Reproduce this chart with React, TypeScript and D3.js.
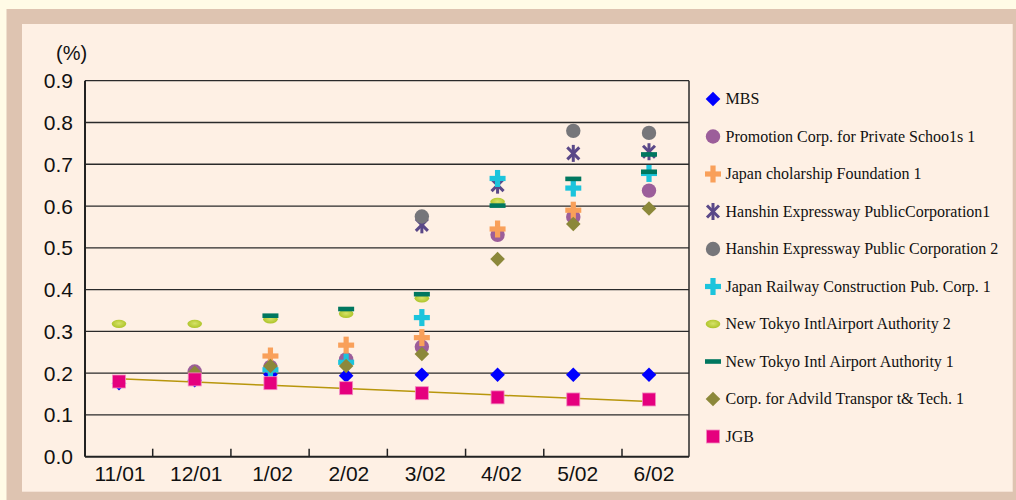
import React from "react";
import * as d3 from "d3";

const categories = ["11/01", "12/01", "1/02", "2/02", "3/02", "4/02", "5/02", "6/02"];
const yTicks = [0, 0.1, 0.2, 0.3, 0.4, 0.5, 0.6, 0.7, 0.8, 0.9];

type V = number | null;
const mbs: V[] = [0.176, 0.183, 0.197, 0.194, 0.196, 0.196, 0.196, 0.196];
const promotion: V[] = [null, 0.204, 0.215, 0.233, 0.263, 0.531, 0.574, 0.637];
const scholarship: V[] = [null, null, 0.241, 0.267, 0.285, 0.545, 0.59, null];
const hanshin1: V[] = [null, null, null, null, 0.555, 0.65, 0.726, 0.73];
const hanshin2: V[] = [null, null, null, null, 0.575, null, 0.78, 0.775];
const railway: V[] = [null, null, 0.208, 0.226, 0.333, 0.666, 0.643, 0.678];
const ntAirport2: V[] = [0.318, 0.318, 0.329, 0.342, 0.379, 0.61, null, null];
const ntAirport1: V[] = [null, null, 0.3375, 0.3535, 0.389, 0.601, 0.665, 0.7235];
const ntAirport1b: V[] = [null, null, null, null, null, null, null, 0.682];
const advTransport: V[] = [null, 0.201, 0.217, 0.217, 0.246, 0.473, 0.557, 0.594];
const jgb: V[] = [0.18, 0.185, 0.176, 0.164, 0.152, 0.142, 0.137, 0.137];

type Shape = "diamond" | "circle" | "plus" | "asterisk" | "ellipse" | "dash" | "square";

const seriesNames = [
  "MBS",
  "Promotion Corp. for Private Schoo1s 1",
  "Japan cholarship Foundation 1",
  "Hanshin Expressway PublicCorporation1",
  "Hanshin Expressway Public Corporation 2",
  "Japan Railway Construction Pub. Corp. 1",
  "New Tokyo IntlAirport Authority 2",
  "New Tokyo Intl Airport Authority 1",
  "Corp. for Advild Transpor t& Tech. 1",
  "JGB",
];
const seriesValues: V[][][] = [
  [mbs],
  [promotion],
  [scholarship],
  [hanshin1],
  [hanshin2],
  [railway],
  [ntAirport2],
  [ntAirport1, ntAirport1b],
  [advTransport],
  [jgb],
];
const seriesShapes: Shape[] = ["diamond", "circle", "plus", "asterisk", "circle", "plus", "ellipse", "dash", "diamond", "square"];
const seriesColors = ["#0000ff", "#9c5e9a", "#f9a05a", "#5a4888", "#76767a", "#1cc4dc", "#b4c830", "#00775f", "#8c883a", "#e5007e"];

function Marker({ shape, color, x, y }: { shape: Shape; color: string; x: number; y: number }) {
  switch (shape) {
    case "diamond":
      return <path d={`M${x},${y - 7.3}L${x + 7.3},${y}L${x},${y + 7.3}L${x - 7.3},${y}Z`} fill={color} />;
    case "circle":
      return <circle cx={x} cy={y} r={7.2} fill={color} />;
    case "plus":
      return (
        <g fill={color}>
          <rect x={x - 8} y={y - 2.6} width={16} height={5.2} />
          <rect x={x - 2.6} y={y - 8.5} width={5.2} height={17} />
        </g>
      );
    case "asterisk":
      return (
        <g stroke={color} strokeWidth={3}>
          <line x1={x} y1={y - 8.5} x2={x} y2={y + 8.5} />
          <line x1={x - 6} y1={y - 6} x2={x + 6} y2={y + 6} />
          <line x1={x + 6} y1={y - 6} x2={x - 6} y2={y + 6} />
        </g>
      );
    case "ellipse":
      return <ellipse cx={x} cy={y} rx={7.3} ry={4.2} fill="url(#ellGrad)" />;
    case "dash":
      return <rect x={x - 8} y={y - 2.3} width={16} height={4.6} fill={color} />;
    case "square":
      return <rect x={x - 6.5} y={y - 6.5} width={13} height={13} fill={color} stroke="#f28cc0" strokeWidth={0.8} />;
  }
  return null;
}

export default function App() {
  const W = 1016;
  const H = 500;
  const plotL = 85;
  const plotR = 689;
  const y = d3.scaleLinear().domain([0, 0.9]).range([456.7, 80.7]);
  const x = d3.scalePoint<string>().domain(categories).range([119, 649]);
  const xLabel = d3.scalePoint<string>().domain(categories).range([120, 654]);
  const tickIdx = d3.range(categories.length - 1);
  const xTick = d3.scaleLinear().domain([0, categories.length - 2]).range([152.7, 622]);

  // linear trendline on JGB
  const pts = jgb.map((v, i) => [i, v as number] as [number, number]);
  const mx = d3.mean(pts, (p) => p[0]) as number;
  const my = d3.mean(pts, (p) => p[1]) as number;
  const slope =
    (d3.sum(pts, (p) => (p[0] - mx) * (p[1] - my)) as number) / (d3.sum(pts, (p) => (p[0] - mx) ** 2) as number);
  const icpt = my - slope * mx;
  const trendLine = d3
    .line<number>()
    .x((i) => x(categories[i]) as number)
    .y((i) => y(icpt + slope * i));

  const legendY0 = 99;
  const legendStep = 37.5;

  return (
    <svg
      width={W}
      height={H}
      style={{ position: "absolute", left: 0, top: 0 }}
      fontFamily="'Liberation Sans', Arial, sans-serif"
    >
      <defs>
        <radialGradient id="ellGrad" cx="0.5" cy="0.45" r="0.6">
          <stop offset="0%" stopColor="#d6e268" />
          <stop offset="100%" stopColor="#a9c021" />
        </radialGradient>
      </defs>
      <rect x={0} y={0} width={W} height={H} fill="#fffbe6" />
      <rect x={6.5} y={9} width={W - 6.5} height={H - 9} fill="#dec4b1" />
      <rect x={22} y={24} width={1012.7 - 22} height={491.7 - 24} fill="#fef0e4" />

      {/* unit label */}
      <text x={56} y={59.5} fontSize={20} fill="#111">
        (%)
      </text>

      {/* gridlines */}
      {yTicks.slice(1).map((t) => (
        <line key={t} x1={plotL} x2={plotR} y1={y(t)} y2={y(t)} stroke="#2a2a2a" strokeWidth={1.3} />
      ))}
      <line x1={plotR} x2={plotR} y1={y(0.9)} y2={y(0)} stroke="#2a2a2a" strokeWidth={1.5} />
      <line x1={plotL} x2={plotL} y1={y(0.9)} y2={y(0)} stroke="#222" strokeWidth={2} />
      <line x1={plotL} x2={plotR} y1={y(0)} y2={y(0)} stroke="#222" strokeWidth={2} />
      {tickIdx.map((i) => (
        <line key={i} x1={xTick(i)} x2={xTick(i)} y1={y(0)} y2={y(0) - 8} stroke="#222" strokeWidth={1.5} />
      ))}

      {/* y labels */}
      {yTicks.map((t) => (
        <text key={t} x={73} y={y(t)} dy="0.36em" textAnchor="end" fontSize={21} fill="#111">
          {t.toFixed(1)}
        </text>
      ))}
      {/* x labels */}
      {categories.map((c) => (
        <text key={c} x={xLabel(c)} y={481} textAnchor="middle" fontSize={21} fill="#111">
          {c}
        </text>
      ))}

      {/* trendline */}
      <path d={trendLine(d3.range(categories.length)) || ""} fill="none" stroke="#b8960c" strokeWidth={1.5} />

      {/* markers */}
      {seriesValues.map((arrs, si) =>
        arrs.map((vals, ai) =>
          vals.map((v, ci) =>
            v == null ? null : (
              <Marker
                key={`${si}-${ai}-${ci}`}
                shape={seriesShapes[si]}
                color={seriesColors[si]}
                x={x(categories[ci]) as number}
                y={y(v)}
              />
            )
          )
        )
      )}

      {/* legend */}
      {seriesNames.map((n, i) => {
        const ly = legendY0 + i * legendStep;
        return (
          <g key={n}>
            <Marker shape={seriesShapes[i]} color={seriesColors[i]} x={713} y={ly} />
            <text
              x={725.5}
              y={ly}
              dy="0.34em"
              fontSize={16}
              fontFamily="'Liberation Serif', 'Times New Roman', serif"
              fill="#111"
            >
              {n}
            </text>
          </g>
        );
      })}
    </svg>
  );
}
